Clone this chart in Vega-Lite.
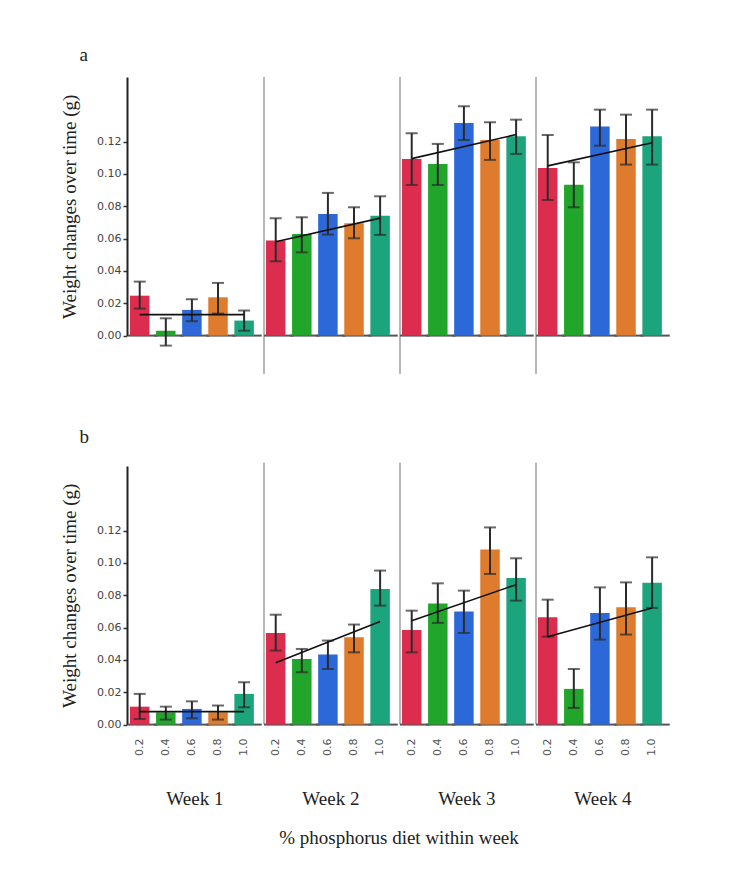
{
  "$schema": "https://vega.github.io/schema/vega-lite/v6.json",
  "background": "white",
  "padding": {"left": 60, "top": 46, "right": 5, "bottom": 5},
  "config": {"view": {"stroke": null}},
  "spacing": 51,
  "datasets": {
    "rows": [
      {"panel": "a", "week": "Week 1", "diet": "0.2", "mean": 0.0247, "lo": 0.0167, "hi": 0.0334, "fit": 0.0130},
      {"panel": "a", "week": "Week 1", "diet": "0.4", "mean": 0.0030, "lo": -0.0062, "hi": 0.0107, "fit": null},
      {"panel": "a", "week": "Week 1", "diet": "0.6", "mean": 0.0159, "lo": 0.0089, "hi": 0.0225, "fit": null},
      {"panel": "a", "week": "Week 1", "diet": "0.8", "mean": 0.0237, "lo": 0.0136, "hi": 0.0326, "fit": null},
      {"panel": "a", "week": "Week 1", "diet": "1.0", "mean": 0.0093, "lo": 0.0030, "hi": 0.0155, "fit": 0.0130},
      {"panel": "a", "week": "Week 2", "diet": "0.2", "mean": 0.0588, "lo": 0.0460, "hi": 0.0726, "fit": 0.0581},
      {"panel": "a", "week": "Week 2", "diet": "0.4", "mean": 0.0629, "lo": 0.0515, "hi": 0.0732, "fit": null},
      {"panel": "a", "week": "Week 2", "diet": "0.6", "mean": 0.0753, "lo": 0.0625, "hi": 0.0883, "fit": null},
      {"panel": "a", "week": "Week 2", "diet": "0.8", "mean": 0.0695, "lo": 0.0602, "hi": 0.0794, "fit": null},
      {"panel": "a", "week": "Week 2", "diet": "1.0", "mean": 0.0742, "lo": 0.0623, "hi": 0.0862, "fit": 0.0727},
      {"panel": "a", "week": "Week 3", "diet": "0.2", "mean": 0.1093, "lo": 0.0932, "hi": 0.1252, "fit": 0.1095},
      {"panel": "a", "week": "Week 3", "diet": "0.4", "mean": 0.1062, "lo": 0.0932, "hi": 0.1186, "fit": null},
      {"panel": "a", "week": "Week 3", "diet": "0.6", "mean": 0.1316, "lo": 0.1210, "hi": 0.1419, "fit": null},
      {"panel": "a", "week": "Week 3", "diet": "0.8", "mean": 0.1210, "lo": 0.1087, "hi": 0.1320, "fit": null},
      {"panel": "a", "week": "Week 3", "diet": "1.0", "mean": 0.1233, "lo": 0.1124, "hi": 0.1336, "fit": 0.1244},
      {"panel": "a", "week": "Week 4", "diet": "0.2", "mean": 0.1037, "lo": 0.0839, "hi": 0.1241, "fit": 0.1050},
      {"panel": "a", "week": "Week 4", "diet": "0.4", "mean": 0.0934, "lo": 0.0794, "hi": 0.1072, "fit": null},
      {"panel": "a", "week": "Week 4", "diet": "0.6", "mean": 0.1293, "lo": 0.1175, "hi": 0.1398, "fit": null},
      {"panel": "a", "week": "Week 4", "diet": "0.8", "mean": 0.1217, "lo": 0.1058, "hi": 0.1367, "fit": null},
      {"panel": "a", "week": "Week 4", "diet": "1.0", "mean": 0.1233, "lo": 0.1058, "hi": 0.1398, "fit": 0.1193},
      {"panel": "b", "week": "Week 1", "diet": "0.2", "mean": 0.0111, "lo": 0.0035, "hi": 0.0190, "fit": 0.0080},
      {"panel": "b", "week": "Week 1", "diet": "0.4", "mean": 0.0076, "lo": 0.0031, "hi": 0.0111, "fit": null},
      {"panel": "b", "week": "Week 1", "diet": "0.6", "mean": 0.0097, "lo": 0.0039, "hi": 0.0144, "fit": null},
      {"panel": "b", "week": "Week 1", "diet": "0.8", "mean": 0.0076, "lo": 0.0031, "hi": 0.0118, "fit": null},
      {"panel": "b", "week": "Week 1", "diet": "1.0", "mean": 0.0190, "lo": 0.0107, "hi": 0.0262, "fit": 0.0080},
      {"panel": "b", "week": "Week 2", "diet": "0.2", "mean": 0.0567, "lo": 0.0458, "hi": 0.0680, "fit": 0.0383},
      {"panel": "b", "week": "Week 2", "diet": "0.4", "mean": 0.0406, "lo": 0.0324, "hi": 0.0468, "fit": null},
      {"panel": "b", "week": "Week 2", "diet": "0.6", "mean": 0.0433, "lo": 0.0344, "hi": 0.0520, "fit": null},
      {"panel": "b", "week": "Week 2", "diet": "0.8", "mean": 0.0540, "lo": 0.0447, "hi": 0.0619, "fit": null},
      {"panel": "b", "week": "Week 2", "diet": "1.0", "mean": 0.0839, "lo": 0.0736, "hi": 0.0953, "fit": 0.0638},
      {"panel": "b", "week": "Week 3", "diet": "0.2", "mean": 0.0586, "lo": 0.0447, "hi": 0.0705, "fit": 0.0643},
      {"panel": "b", "week": "Week 3", "diet": "0.4", "mean": 0.0750, "lo": 0.0629, "hi": 0.0874, "fit": null},
      {"panel": "b", "week": "Week 3", "diet": "0.6", "mean": 0.0699, "lo": 0.0567, "hi": 0.0829, "fit": null},
      {"panel": "b", "week": "Week 3", "diet": "0.8", "mean": 0.1083, "lo": 0.0932, "hi": 0.1220, "fit": null},
      {"panel": "b", "week": "Week 3", "diet": "1.0", "mean": 0.0907, "lo": 0.0767, "hi": 0.1029, "fit": 0.0866},
      {"panel": "b", "week": "Week 4", "diet": "0.2", "mean": 0.0664, "lo": 0.0544, "hi": 0.0773, "fit": 0.0544},
      {"panel": "b", "week": "Week 4", "diet": "0.4", "mean": 0.0221, "lo": 0.0103, "hi": 0.0344, "fit": null},
      {"panel": "b", "week": "Week 4", "diet": "0.6", "mean": 0.0691, "lo": 0.0526, "hi": 0.0849, "fit": null},
      {"panel": "b", "week": "Week 4", "diet": "0.8", "mean": 0.0726, "lo": 0.0557, "hi": 0.0880, "fit": null},
      {"panel": "b", "week": "Week 4", "diet": "1.0", "mean": 0.0877, "lo": 0.0722, "hi": 0.1035, "fit": 0.0722}
    ]
  },
  "vconcat": [
    {
      "title": {"text": "a", "anchor": "start", "frame": "bounds", "dx": 19, "offset": -4, "baseline": "alphabetic", "font": "Liberation Serif", "fontSize": 19, "fontWeight": "normal", "color": "#222"},
      "data": {"name": "rows"},
      "transform": [{"filter": "datum.panel == 'a'"}],
      "facet": {"column": {"field": "week", "type": "nominal", "header": null}},
      "spacing": 0,
      "spec": {
        "width": 135.75,
        "height": 258.6,
        "layer": [
          {
            "transform": [{"filter": "datum.week != 'Week 1' && datum.diet == '0.2'"}],
            "mark": {"type": "rule", "color": "#b8b8b8", "strokeWidth": 2},
            "encoding": {
              "x": {"field": "diet", "type": "nominal", "bandPosition": -0.1},
              "y": {"datum": -0.0238},
              "y2": {"datum": 0.16}
            }
          },
          {
            "mark": {"type": "rule", "color": "#555555", "strokeWidth": 2},
            "encoding": {
              "x": {"field": "diet", "type": "nominal", "bandPosition": -0.1},
              "x2": {"field": "diet", "bandPosition": 1.405},
              "y": {"datum": 0}
            }
          },
          {
            "mark": {"type": "bar"},
            "encoding": {
              "x": {
                "field": "diet", "type": "nominal",
                "scale": {"paddingInner": 0.253, "paddingOuter": 0.227, "align": 0.25},
                "axis": {"labels": false, "ticks": false, "domain": false, "title": null}
              },
              "y": {
                "field": "mean", "type": "quantitative",
                "scale": {"domain": [0, 0.16], "nice": false},
                "axis": {
                  "title": "Weight changes over time (g)",
                  "titleFont": "Liberation Serif", "titleFontSize": 19, "titleFontWeight": "normal", "titleColor": "#222",
                  "titlePadding": 17,
                  "values": [0, 0.01, 0.02, 0.03, 0.04, 0.05, 0.06, 0.07, 0.08, 0.09, 0.1, 0.11, 0.12],
                  "labelExpr": "round(datum.value * 100) % 2 == 0 ? format(datum.value, '.2f') : ''",
                  "labelFont": "DejaVu Sans", "labelFontSize": 11, "labelColor": "#444", "labelPadding": 2,
                  "tickSize": 4, "tickColor": "#333", "tickWidth": 1.5,
                  "domain": true, "domainColor": "#222", "domainWidth": 2, "grid": false
                }
              },
              "color": {
                "field": "diet", "type": "nominal", "legend": null,
                "scale": {"domain": ["0.2", "0.4", "0.6", "0.8", "1.0"], "range": ["#dc2d4f", "#21a52b", "#2d68d8", "#df7b2c", "#1ca57c"]}
              }
            }
          },
          {
            "mark": {"type": "rule", "color": "#2b2b2b", "strokeWidth": 2},
            "encoding": {
              "x": {"field": "diet", "type": "nominal"},
              "y": {"field": "lo", "type": "quantitative"},
              "y2": {"field": "hi"}
            }
          },
          {
            "mark": {"type": "tick", "color": "#2b2b2b", "size": 12, "thickness": 2},
            "encoding": {
              "x": {"field": "diet", "type": "nominal"},
              "y": {"field": "lo", "type": "quantitative"}
            }
          },
          {
            "mark": {"type": "tick", "color": "#2b2b2b", "size": 12, "thickness": 2},
            "encoding": {
              "x": {"field": "diet", "type": "nominal"},
              "y": {"field": "hi", "type": "quantitative"}
            }
          },
          {
            "transform": [{"filter": "isValid(datum.fit)"}],
            "mark": {"type": "line", "color": "#111111", "strokeWidth": 1.6},
            "encoding": {
              "x": {"field": "diet", "type": "nominal"},
              "y": {"field": "fit", "type": "quantitative"}
            }
          }
        ]
      }
    },
    {
      "title": {"text": "b", "anchor": "start", "frame": "bounds", "dx": 19, "offset": 0, "baseline": "alphabetic", "font": "Liberation Serif", "fontSize": 19, "fontWeight": "normal", "color": "#222"},
      "data": {"name": "rows"},
      "transform": [{"filter": "datum.panel == 'b'"}],
      "facet": {
        "column": {
          "field": "week", "type": "nominal", "title": "% phosphorus diet within week",
          "header": {
            "labelOrient": "bottom", "titleOrient": "bottom",
            "labelFont": "Liberation Serif", "labelFontSize": 19, "labelColor": "#222", "labelPadding": 35,
            "titleFont": "Liberation Serif", "titleFontSize": 19, "titleFontWeight": "normal", "titleColor": "#222", "titlePadding": 9
          }
        }
      },
      "spacing": 0,
      "spec": {
        "width": 135.75,
        "height": 258.6,
        "layer": [
          {
            "transform": [{"filter": "datum.week != 'Week 1' && datum.diet == '0.2'"}],
            "mark": {"type": "rule", "color": "#b8b8b8", "strokeWidth": 2},
            "encoding": {
              "x": {"field": "diet", "type": "nominal", "bandPosition": -0.1},
              "y": {"datum": 0},
              "y2": {"datum": 0.162}
            }
          },
          {
            "mark": {"type": "rule", "color": "#555555", "strokeWidth": 2},
            "encoding": {
              "x": {"field": "diet", "type": "nominal", "bandPosition": -0.1},
              "x2": {"field": "diet", "bandPosition": 1.405},
              "y": {"datum": 0}
            }
          },
          {
            "mark": {"type": "bar"},
            "encoding": {
              "x": {
                "field": "diet", "type": "nominal",
                "scale": {"paddingInner": 0.253, "paddingOuter": 0.227, "align": 0.25},
                "axis": {"labels": true, "labelAngle": 270, "ticks": false, "domain": false, "title": null, "labelFont": "DejaVu Sans", "labelFontSize": 11, "labelColor": "#555", "labelPadding": 12}
              },
              "y": {
                "field": "mean", "type": "quantitative",
                "scale": {"domain": [0, 0.16], "nice": false},
                "axis": {
                  "title": "Weight changes over time (g)",
                  "titleFont": "Liberation Serif", "titleFontSize": 19, "titleFontWeight": "normal", "titleColor": "#222",
                  "titlePadding": 17,
                  "values": [0, 0.01, 0.02, 0.03, 0.04, 0.05, 0.06, 0.07, 0.08, 0.09, 0.1, 0.11, 0.12],
                  "labelExpr": "round(datum.value * 100) % 2 == 0 ? format(datum.value, '.2f') : ''",
                  "labelFont": "DejaVu Sans", "labelFontSize": 11, "labelColor": "#444", "labelPadding": 2,
                  "tickSize": 4, "tickColor": "#333", "tickWidth": 1.5,
                  "domain": true, "domainColor": "#222", "domainWidth": 2, "grid": false
                }
              },
              "color": {
                "field": "diet", "type": "nominal", "legend": null,
                "scale": {"domain": ["0.2", "0.4", "0.6", "0.8", "1.0"], "range": ["#dc2d4f", "#21a52b", "#2d68d8", "#df7b2c", "#1ca57c"]}
              }
            }
          },
          {
            "mark": {"type": "rule", "color": "#2b2b2b", "strokeWidth": 2},
            "encoding": {
              "x": {"field": "diet", "type": "nominal"},
              "y": {"field": "lo", "type": "quantitative"},
              "y2": {"field": "hi"}
            }
          },
          {
            "mark": {"type": "tick", "color": "#2b2b2b", "size": 12, "thickness": 2},
            "encoding": {
              "x": {"field": "diet", "type": "nominal"},
              "y": {"field": "lo", "type": "quantitative"}
            }
          },
          {
            "mark": {"type": "tick", "color": "#2b2b2b", "size": 12, "thickness": 2},
            "encoding": {
              "x": {"field": "diet", "type": "nominal"},
              "y": {"field": "hi", "type": "quantitative"}
            }
          },
          {
            "transform": [{"filter": "isValid(datum.fit)"}],
            "mark": {"type": "line", "color": "#111111", "strokeWidth": 1.6},
            "encoding": {
              "x": {"field": "diet", "type": "nominal"},
              "y": {"field": "fit", "type": "quantitative"}
            }
          }
        ]
      }
    }
  ]
}
